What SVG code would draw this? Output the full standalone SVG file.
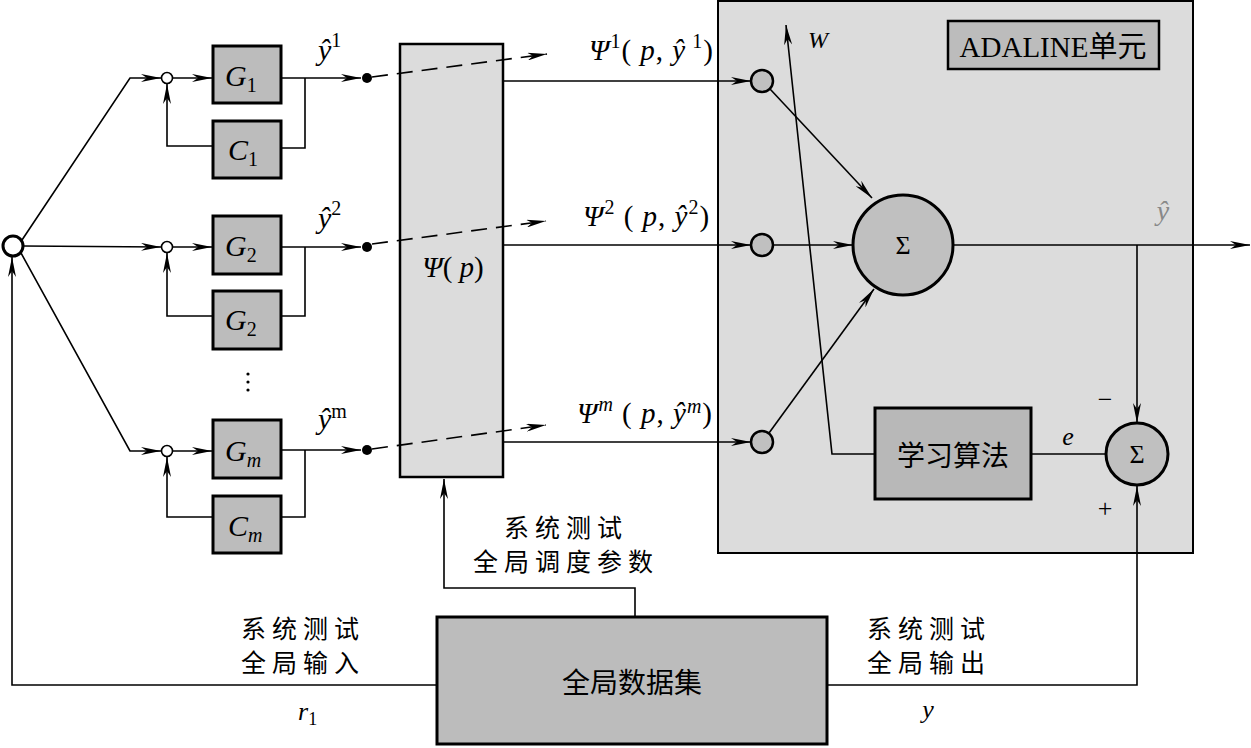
<svg xmlns="http://www.w3.org/2000/svg" width="1251" height="748" viewBox="0 0 1251 748">
<style>
.box{fill:#bcbcbc;stroke:#000;stroke-width:3}
.lt{fill:#dcdcdc;stroke:#000;stroke-width:2.5}
.ln{fill:none;stroke:#000;stroke-width:1.6}
.ar{marker-end:url(#arr)}
.dash{fill:none;stroke:#000;stroke-width:1.6;stroke-dasharray:16 9}
.it{font-family:"Liberation Serif",serif;font-style:italic;fill:#000}
.sr{font-family:"Liberation Serif",serif;fill:#000}
.cn{font-family:"Noto Sans CJK SC","Liberation Sans",sans-serif;fill:#000}
.sc{fill:#c0c0c0;stroke:#000;stroke-width:2.5}
.wc{fill:#fff;stroke:#000;stroke-width:1.6}
</style>
<defs>
<marker id="arr" viewBox="0 0 20 8" markerWidth="20" markerHeight="8" refX="20" refY="4" orient="auto" markerUnits="userSpaceOnUse">
<path d="M0,0 L20,4 L0,8 L6,4 z" fill="#000"/>
</marker>
</defs>

<g id="adaline-bg"><rect x="718" y="1" width="475" height="552" fill="#dcdcdc" stroke="#000" stroke-width="2"/></g>

<g id="psi"><rect class="lt" x="400" y="44" width="103" height="433"/><text class="it" x="453" y="277" font-size="29" text-anchor="middle">Ψ<tspan font-style="normal">(</tspan> p<tspan font-style="normal">)</tspan></text></g>

<g id="connectors">
<path class="ln ar" d="M22,240 L130,78 L161,78"/>
<path class="ln ar" d="M23,246 L161,247"/>
<path class="ln ar" d="M21,253 L130,451 L161,451"/>
<path class="ln ar" d="M172,78 L212,78"/>
<path class="ln ar" d="M172,247 L212,247"/>
<path class="ln ar" d="M172,451 L212,451"/>
<path class="ln ar" d="M281,78 L361,78"/>
<path class="ln ar" d="M281,247 L361,247"/>
<path class="ln ar" d="M281,450 L361,450"/>
<path class="ln" d="M305,78 L305,148 L281,148"/>
<path class="ln" d="M305,247 L305,316 L281,316"/>
<path class="ln" d="M305,450 L305,517 L281,517"/>
<path class="ln ar" d="M213,146 L167,146 L167,84"/>
<path class="ln ar" d="M213,316 L167,316 L167,253"/>
<path class="ln ar" d="M213,517 L167,517 L167,457"/>
<path class="dash ar" d="M372,77 L547,54"/>
<path class="dash ar" d="M372,244 L546,221"/>
<path class="dash ar" d="M372,449 L546,425"/>
<path class="ln ar" d="M503,81 L751,81"/>
<path class="ln ar" d="M503,245 L751,245"/>
<path class="ln ar" d="M503,442 L751,442"/>
<path class="ln ar" d="M770,89 L872,198"/>
<path class="ln ar" d="M773,245 L853,245"/>
<path class="ln ar" d="M769,433 L874,289"/>
<path class="ln ar" d="M953,245 L1250,245"/>
<path class="ln ar" d="M1137,245 L1137,423"/>
<path class="ln ar" d="M827,685 L1137,685 L1137,486"/>
<path class="ln ar" d="M437,685 L12,685 L12,257"/>
<path class="ln ar" d="M635,617 L635,588 L444,588 L444,479"/>
<path class="ln" d="M1031,454 L1106,454"/>
<path class="ln ar" d="M875,454 L832,454 L786,25"/>
</g>

<g id="input"><circle cx="13" cy="246" r="10" fill="#fff" stroke="#000" stroke-width="3"/></g>

<g id="sum1"><circle class="wc" cx="167" cy="78" r="5.5"/></g>
<g id="sum2"><circle class="wc" cx="167" cy="247" r="5.5"/></g>
<g id="summ"><circle class="wc" cx="167" cy="451" r="5.5"/></g>

<g id="G1"><rect class="box" x="213" y="46" width="68" height="57"/><text class="it" x="225" y="86" font-size="30">G<tspan font-style="normal" font-size="20" dy="6">1</tspan></text></g>
<g id="C1"><rect class="box" x="213" y="121" width="68" height="57"/><text class="it" x="228" y="160" font-size="30">C<tspan font-style="normal" font-size="20" dy="6">1</tspan></text></g>
<g id="G2"><rect class="box" x="213" y="216" width="68" height="58"/><text class="it" x="225" y="256" font-size="30">G<tspan font-style="normal" font-size="20" dy="6">2</tspan></text></g>
<g id="G2b"><rect class="box" x="213" y="291" width="68" height="58"/><text class="it" x="225" y="330" font-size="30">G<tspan font-style="normal" font-size="20" dy="6">2</tspan></text></g>
<g id="Gm"><rect class="box" x="213" y="420" width="68" height="58"/><text class="it" x="225" y="461" font-size="30">G<tspan font-size="20" dy="6">m</tspan></text></g>
<g id="Cm"><rect class="box" x="213" y="496" width="68" height="57"/><text class="it" x="228" y="536" font-size="30">C<tspan font-size="20" dy="6">m</tspan></text></g>
<g id="dots"><circle cx="248" cy="374" r="1.6"/><circle cx="248" cy="382" r="1.6"/><circle cx="248" cy="390" r="1.6"/></g>

<g id="yhat-labels">
<text class="it" x="318" y="60" font-size="30">ŷ<tspan font-style="normal" font-size="20" dy="-13">1</tspan></text>
<text class="it" x="318" y="228" font-size="30">ŷ<tspan font-style="normal" font-size="20" dy="-13">2</tspan></text>
<text class="it" x="318" y="429" font-size="30">ŷ<tspan font-style="normal" font-size="20" dy="-11">m</tspan></text>
</g>
<g id="dot1"><circle cx="367" cy="78" r="5"/></g>
<g id="dot2"><circle cx="367" cy="247" r="5"/></g>
<g id="dotm"><circle cx="367" cy="450" r="5"/></g>

<g id="psi-labels">
<text class="it" x="589" y="60" font-size="29" letter-spacing="1">Ψ<tspan font-style="normal" font-size="20" dy="-12">1</tspan><tspan font-style="normal" dy="12">(</tspan> p<tspan font-style="normal">,</tspan> ŷ<tspan font-style="normal" font-size="20" dy="-12"> 1</tspan><tspan font-style="normal" dy="12">)</tspan></text>
<text class="it" x="583" y="226" font-size="29" letter-spacing="1">Ψ<tspan font-style="normal" font-size="20" dy="-12">2</tspan><tspan font-style="normal" dy="12"> (</tspan> p<tspan font-style="normal">,</tspan> ŷ<tspan font-style="normal" font-size="20" dy="-12">2</tspan><tspan font-style="normal" dy="12">)</tspan></text>
<text class="it" x="577" y="423" font-size="29" letter-spacing="1">Ψ<tspan font-size="20" dy="-12">m</tspan><tspan font-style="normal" dy="12"> (</tspan> p<tspan font-style="normal">,</tspan> ŷ<tspan font-size="20" dy="-10">m</tspan><tspan font-style="normal" dy="10">)</tspan></text>
</g>

<g id="adaline-title"><rect x="948" y="21" width="211" height="48" fill="#bcbcbc" stroke="#000" stroke-width="2.5"/><text class="sr" x="1053" y="57" font-size="29" text-anchor="middle">ADALINE<tspan font-family="Noto Sans CJK SC,sans-serif">单元</tspan></text></g>

<g id="w1"><circle class="sc" cx="762" cy="81" r="11"/></g>
<g id="w2"><circle class="sc" cx="762" cy="245" r="11"/></g>
<g id="wm"><circle class="sc" cx="762" cy="442" r="11"/></g>
<g id="W-label"><text class="it" x="808" y="48" font-size="24">W</text></g>

<g id="sigma"><circle cx="903" cy="245" r="50" fill="#c0c0c0" stroke="#000" stroke-width="3"/><text class="sr" x="903" y="254" font-size="26" text-anchor="middle">Σ</text></g>
<g id="yhat-out"><text class="it" x="1163" y="220" font-size="28" style="fill:#888" text-anchor="middle">ŷ</text></g>

<g id="learn"><rect x="875" y="408" width="156" height="91" fill="#b8b8b8" stroke="#000" stroke-width="3"/><text class="cn" x="953" y="466" font-size="28" text-anchor="middle">学习算法</text></g>
<g id="e-label"><text class="it" x="1068" y="445" font-size="26" text-anchor="middle">e</text></g>
<g id="sigma2"><circle cx="1137" cy="454" r="31" fill="#c0c0c0" stroke="#000" stroke-width="3"/><text class="sr" x="1137" y="463" font-size="26" text-anchor="middle">Σ</text></g>
<g id="signs"><text class="sr" x="1105" y="408" font-size="26" text-anchor="middle">−</text><text class="sr" x="1105" y="517" font-size="26" text-anchor="middle">+</text></g>

<g id="dataset"><rect x="437" y="617" width="390" height="127" fill="#bcbcbc" stroke="#000" stroke-width="3"/><text class="cn" x="632" y="693" font-size="28" text-anchor="middle">全局数据集</text></g>

<g id="text-labels">
<text class="cn" x="566" y="537" font-size="25" letter-spacing="6" text-anchor="middle">系统测试</text>
<text class="cn" x="566" y="571" font-size="25" letter-spacing="6" text-anchor="middle">全局调度参数</text>
<text class="cn" x="303" y="638" font-size="25" letter-spacing="6" text-anchor="middle">系统测试</text>
<text class="cn" x="303" y="672" font-size="25" letter-spacing="6" text-anchor="middle">全局输入</text>
<text class="cn" x="929" y="638" font-size="25" letter-spacing="6" text-anchor="middle">系统测试</text>
<text class="cn" x="929" y="672" font-size="25" letter-spacing="6" text-anchor="middle">全局输出</text>
<text class="it" x="298" y="720" font-size="26">r<tspan font-style="normal" font-size="18" dy="5">1</tspan></text>
<text class="it" x="928" y="718" font-size="26" text-anchor="middle">y</text>
</g>
</svg>
